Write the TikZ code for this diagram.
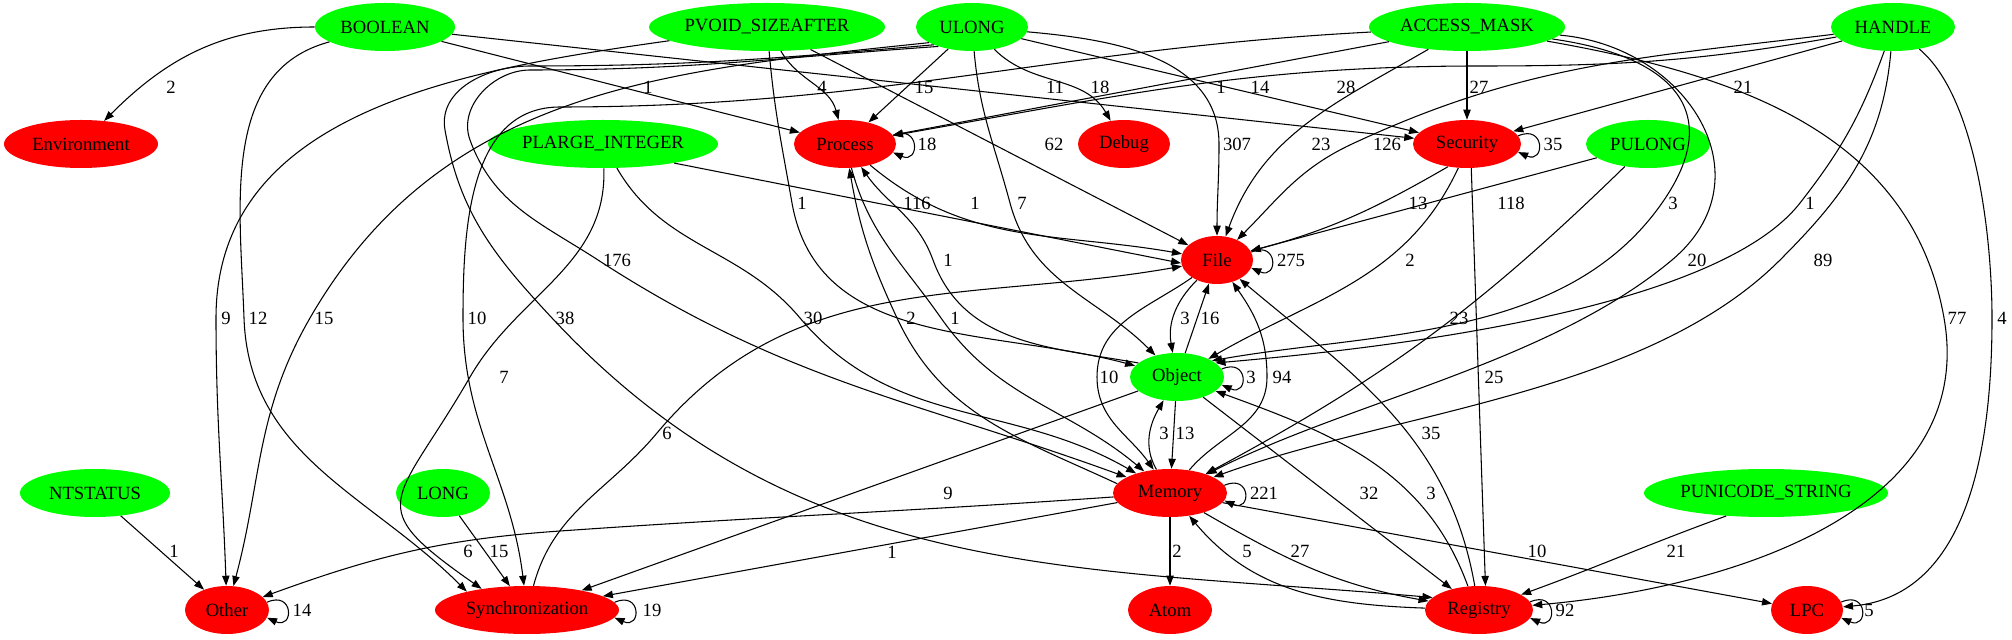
\documentclass[tikz,border=0pt]{standalone}
\usepackage{fontspec}
\setmainfont{Liberation Serif}
\usetikzlibrary{shapes.geometric,arrows.meta}

\definecolor{typegreen}{RGB}{0,255,0}
\definecolor{catred}{RGB}{255,0,0}

\tikzset{
  gvfont/.style={font=\fontsize{14}{16}\selectfont},
  typenode/.style={ellipse, fill=typegreen, inner sep=0pt, minimum height=36pt, gvfont},
  catnode/.style={ellipse, fill=catred, inner sep=0pt, minimum height=36pt, gvfont},
  flow/.style={line width=0.8pt, -{Triangle[length=7.5pt,width=5.5pt]}},
  lbl/.style={inner sep=0pt, gvfont},
}

\begin{document}
\begin{tikzpicture}[x=0.75pt,y=0.75pt]
\fill[white] (0,0) rectangle (2012,639);
\useasboundingbox (0,0) rectangle (2012,639);

% argument types, top row
\node[typenode, minimum width=105pt] (boolean) at (385,612) {BOOLEAN};
\node[typenode, minimum width=177pt] (pvoid) at (767,612) {PVOID\_SIZEAFTER};
\node[typenode, minimum width=84pt] (ulong) at (972,612) {ULONG};
\node[typenode, minimum width=147pt] (accessmask) at (1467,612) {ACCESS\_MASK};
\node[typenode, minimum width=93pt] (handle) at (1893,612) {HANDLE};
% second row
\node[catnode, minimum width=115.5pt] (environment) at (81,495) {Environment};
\node[typenode, minimum width=172.5pt] (plarge) at (603,495) {PLARGE\_INTEGER};
\node[catnode, minimum width=76.5pt] (process) at (845,495) {Process};
\node[catnode, minimum width=69pt] (debug) at (1124,495) {Debug};
\node[catnode, minimum width=81pt] (security) at (1467,495) {Security};
\node[typenode, minimum width=93pt] (pulong) at (1648,495) {PULONG};
% middle
\node[catnode, minimum width=54pt] (file) at (1217,379) {File};
\node[typenode, minimum width=70.5pt] (object) at (1177,262) {Object};
% fourth row
\node[typenode, minimum width=112.5pt] (ntstatus) at (95,146) {NTSTATUS};
\node[typenode, minimum width=70.5pt] (long) at (443,146) {LONG};
\node[catnode, minimum width=85.5pt] (memory) at (1170,146) {Memory};
\node[typenode, minimum width=183pt] (punicode) at (1766,146) {PUNICODE\_STRING};
% bottom row
\node[catnode, minimum width=63pt] (other) at (227,29) {Other};
\node[catnode, minimum width=138pt] (sync) at (527,29) {Synchronization};
\node[catnode, minimum width=63pt] (atom) at (1170,29) {Atom};
\node[catnode, minimum width=81pt] (registry) at (1479,29) {Registry};
\node[catnode, minimum width=54pt] (lpc) at (1807,29) {LPC};

% BOOLEAN
\draw[flow] (boolean) to[out=180,in=45] (environment);
\draw[flow] (boolean) -- (process);
\draw[flow] (boolean) -- (security);
\draw[flow] (boolean) to[out=195,in=92] (244,321) to[out=-88,in=135] (sync.163);
% PVOID_SIZEAFTER
\draw[flow] (pvoid) to[out=188,in=90] (216,321) to[out=-90,in=92] (other);
\draw[flow] (pvoid) to[out=-60,in=105] (process);
\draw[flow] (pvoid) -- (file);
\draw[flow] (pvoid) to[out=-85,in=100] (792,436) to[out=-80,in=165] (object);
% ULONG
\draw[flow] (ulong) -- (process);
\draw[flow] (ulong) to[out=-45,in=120] (debug);
\draw[flow] (ulong) to[out=-5,in=90] (1219,495) to[out=-90,in=90] (file);
\draw[flow] (ulong) -- (security);
\draw[flow] (ulong) to[out=-85,in=105] (1010,436) to[out=-75,in=135] (object);
\draw[flow] (ulong.200) to[out=186,in=60] (310,321) to[out=-120,in=75] (other);
\draw[flow] (ulong.210) to[out=184,in=0] (530,569) to[out=180,in=110] (470,499)
  to[out=-70,in=147] (598,379) to[out=-33,in=160] (memory);
\draw[flow] (ulong.205) to[out=185,in=0] (530,573) to[out=180,in=100] (445,509)
  to[out=-80,in=133] (552,321) to[out=-47,in=175] (registry.165);
% ACCESS_MASK
\draw[flow] (accessmask) -- (security);
\draw[flow] (accessmask) -- (process);
\draw[flow] (accessmask) to[out=183,in=0] (560,532) to[out=180,in=90] (463,321) to[out=-90,in=97] (sync);
\draw[flow] (accessmask) to[out=-150,in=70] (file);
\draw[flow] (accessmask) to[out=-8,in=55,looseness=1.5] (1662,436) to[out=-125,in=10,looseness=0.9] (object.25);
\draw[flow] (accessmask) to[out=-5,in=40,looseness=1.3] (1672,379) to[out=-140,in=27,looseness=0.8] (memory);
\draw[flow] (accessmask) to[out=-10,in=100] (1944,321) to[out=-80,in=5] (registry);
% HANDLE
\draw[flow] (handle) to[out=190,in=0] (1480,573) to[out=180,in=10] (process);
\draw[flow] (handle) -- (security);
\draw[flow] (handle) to[out=187,in=25] (1352,495) to[out=-155,in=45] (file);
\draw[flow] (handle) to[out=-110,in=52] (1800,436) to[out=-128,in=5,looseness=0.6] (object.20);
\draw[flow] (handle) to[out=-95,in=45] (1780,379) to[out=-135,in=20,looseness=0.8] (memory);
\draw[flow] (handle) to[out=-40,in=90,looseness=0.7] (1992,321) to[out=-90,in=5] (lpc);
% PLARGE_INTEGER
\draw[flow] (plarge.-15) -- (file.185);
\draw[flow] (plarge) to[out=-60,in=130] (800,321) to[out=-50,in=150] (memory);
\draw[flow] (plarge) to[out=-88,in=60] (470,262) to[out=-120,in=145,looseness=1.8] (sync.155);
% PULONG, PUNICODE_STRING, NTSTATUS, LONG
\draw[flow] (pulong) -- (file);
\draw[flow] (pulong) to[bend left=8] (memory);
\draw[flow] (punicode.-150) to[out=-160,in=20] (registry);
\draw[flow] (ntstatus) -- (other);
\draw[flow] (long) -- (sync);

% between categories
\draw[flow] (process) to[out=-40,in=170] (file);
\draw[flow] (process) to[out=-75,in=125] (941,321) to[out=-55,in=140] (memory);
\draw[flow] (memory.170) to[out=155,in=-65] (897,321) to[out=115,in=-80] (process);
\draw[flow] (object.160) to[out=170,in=-70] (933,379) to[out=110,in=-55] (process);
\draw[flow] (security.-130) to[out=-150,in=15] (file);
\draw[flow] (security.-110) to[out=-115,in=30] (object);
\draw[flow] (security.-80) -- (registry.75);
\draw[flow] (file) to[out=-135,in=100] (object);
\draw[flow] (object) -- (file);
\draw[flow] (file) to[out=-145,in=90] (1097,262) to[out=-90,in=125] (memory);
\draw[flow] (memory) to[out=50,in=-90] (1267,262) to[out=90,in=-55] (file);
\draw[flow] (object) -- (memory);
\draw[flow] (memory) to[out=120,in=-120] (object);
\draw[flow] (object) -- (registry);
\draw[flow] (registry.115) to[out=110,in=-20] (object);
\draw[flow] (object) -- (sync);
\draw[flow] (memory) -- (atom);
\draw[flow] (memory) to[out=-30,in=170] (registry);
\draw[flow] (registry.178) to[out=178,in=-50] (memory);
\draw[flow] (memory) -- (lpc);
\draw[flow] (memory) to[out=184,in=4] (560,108) to[out=184,in=20] (other);
\draw[flow] (memory) -- (sync);
\draw[flow] (sync) to[out=75,in=-130] (657,206) to[out=50,in=190] (file);
\draw[flow] (registry.100) to[out=100,in=-40] (file);

% self loops
\draw[flow] (process.10) .. controls +(27,12) and +(27,-12) .. (process.-10);
\draw[flow] (security.9) .. controls +(27,12) and +(27,-12) .. (security.-9);
\draw[flow] (file.13) .. controls +(27,12) and +(27,-12) .. (file.-13);
\draw[flow] (object.10) .. controls +(27,12) and +(27,-12) .. (object.-10);
\draw[flow] (memory.8) .. controls +(27,12) and +(27,-12) .. (memory.-8);
\draw[flow] (other.11) .. controls +(27,12) and +(27,-12) .. (other.-11);
\draw[flow] (sync.5) .. controls +(27,12) and +(27,-12) .. (sync.-5);
\draw[flow] (registry.9) .. controls +(27,12) and +(27,-12) .. (registry.-9);
\draw[flow] (lpc.13) .. controls +(27,12) and +(27,-12) .. (lpc.-13);

% edge labels
\node[lbl] (lBoEn) at (171,552) {2};
\node[lbl] (lBoPr) at (648,552) {1};
\node[lbl] (lPvPr) at (822,552) {4};
\node[lbl] (lUlPr) at (924,552) {15};
\node[lbl] (lBoSe) at (1055,552) {11};
\node[lbl] (lUlDe) at (1100,552) {18};
\node[lbl] (lAmPr) at (1221,552) {1};
\node[lbl] (lHaPr) at (1260,552) {14};
\node[lbl] (lUlSe) at (1346,552) {28};
\node[lbl] (lAmSe) at (1479,552) {27};
\node[lbl] (lHaSe) at (1743,552) {21};
\node[lbl] (lPrPr) at (927,495) {18};
\node[lbl] (lPvFi) at (1054,495) {62};
\node[lbl] (lUlFi) at (1237,495) {307};
\node[lbl] (lAmFi) at (1321,495) {23};
\node[lbl] (lHaFi) at (1387,495) {126};
\node[lbl] (lSeSe) at (1553,495) {35};
\node[lbl] (lPvOb) at (802,436) {1};
\node[lbl] (lPlFi) at (917,436) {116};
\node[lbl] (lPrFi) at (975,436) {1};
\node[lbl] (lUlOb) at (1022,436) {7};
\node[lbl] (lSeFi) at (1418,436) {13};
\node[lbl] (lPuFi) at (1511,436) {118};
\node[lbl] (lAmOb) at (1673,436) {3};
\node[lbl] (lHaOb) at (1810,436) {1};
\node[lbl] (lUlMe) at (617,379) {176};
\node[lbl] (lObPr) at (948,379) {1};
\node[lbl] (lFiFi) at (1291,379) {275};
\node[lbl] (lSeOb) at (1410,379) {2};
\node[lbl] (lAmMe) at (1697,379) {20};
\node[lbl] (lHaMe) at (1823,379) {89};
\node[lbl] (lPvOt) at (226,321) {9};
\node[lbl] (lBoSy) at (258,321) {12};
\node[lbl] (lUlOt) at (324,321) {15};
\node[lbl] (lAmSy) at (477,321) {10};
\node[lbl] (lUlRe) at (565,321) {38};
\node[lbl] (lPlMe) at (813,321) {30};
\node[lbl] (lMePr) at (911,321) {2};
\node[lbl] (lPrMe) at (955,321) {1};
\node[lbl] (lFiOb) at (1185,321) {3};
\node[lbl] (lObFi) at (1210,321) {16};
\node[lbl] (lPuMe) at (1459,321) {23};
\node[lbl] (lAmRe) at (1957,321) {77};
\node[lbl] (lHaLp) at (2002,321) {4};
\node[lbl] (lPlSy) at (504,262) {7};
\node[lbl] (lFiMe) at (1109,262) {10};
\node[lbl] (lObOb) at (1251,262) {3};
\node[lbl] (lMeFi) at (1282,262) {94};
\node[lbl] (lSeRe) at (1494,262) {25};
\node[lbl] (lSyFi) at (667,206) {6};
\node[lbl] (lMeOb) at (1164,206) {3};
\node[lbl] (lObMe) at (1185,206) {13};
\node[lbl] (lReFi) at (1431,206) {35};
\node[lbl] (lObSy) at (948,146) {9};
\node[lbl] (lMeMe) at (1264,146) {221};
\node[lbl] (lObRe) at (1369,146) {32};
\node[lbl] (lReOb) at (1431,146) {3};
\node[lbl] (lNtOt) at (174,88) {1};
\node[lbl] (lMeOt) at (468,88) {6};
\node[lbl] (lLoSy) at (499,88) {15};
\node[lbl] (lMeSy) at (892,87) {1};
\node[lbl] (lMeAt) at (1177,88) {2};
\node[lbl] (lReMe) at (1247,88) {5};
\node[lbl] (lMeRe) at (1300,88) {27};
\node[lbl] (lMeLp) at (1537,88) {10};
\node[lbl] (lPuRe) at (1676,88) {21};
\node[lbl] (lOtOt) at (302,29) {14};
\node[lbl] (lSySy) at (652,29) {19};
\node[lbl] (lReRe) at (1565,29) {92};
\node[lbl] (lLpLp) at (1869,29) {5};

\end{tikzpicture}
\end{document}
